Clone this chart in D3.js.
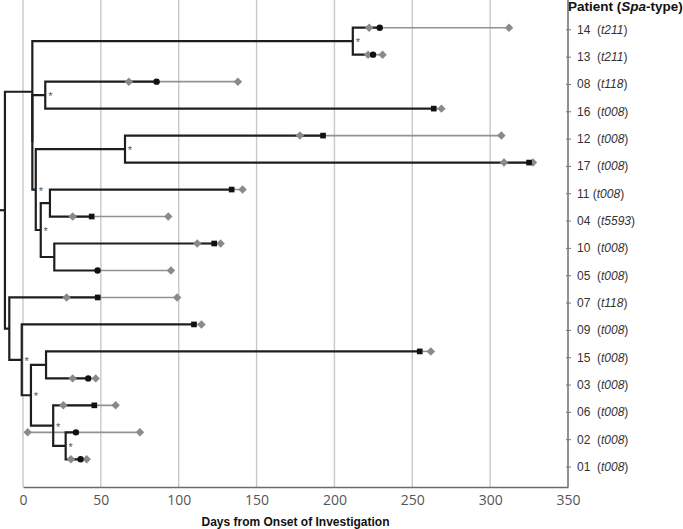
<!DOCTYPE html>
<html>
<head>
<meta charset="utf-8">
<script src="https://cdn.jsdelivr.net/npm/d3@7"></script>
<style>
  body { margin: 0; background: white; }
</style>
</head>
<body>
<svg id="chart"></svg>
<script>
// Patients, top to bottom, with spa-type
const patients = ["14", "13", "08", "16", "12", "17", "11", "04", "10", "05", "07", "09", "15", "03", "06", "02", "01"];
const spaTypes = ["t211", "t211", "t118", "t008", "t008", "t008", "t008", "t5593", "t008", "t008", "t118", "t008", "t008", "t008", "t008", "t008", "t008"];

// days: first positive (grey diamond), sequenced isolate (black marker), last positive (grey diamond)
const firstPositive = [222.3, 221.6, 68, null, 177.8, 308.9, null, 31.9, 111.9, null, 28, null, null, 31.9, 25.9, 3, 30.8];
const isolateDay = [229.1, 224.8, 85.8, 263.8, 192.7, 325, 134, 44.1, 122.8, 47.9, 48, 109.8, 254.8, 41.9, 45.8, 34, 37];
const lastPositive = [312.1, 230.9, 138, 268.7, 307.2, 327.5, 141, 93.3, 126.9, 95, 99, 114.6, 261.9, 46.7, 59.5, 75.1, 40.9];
const markerShape = ["circle", "circle", "circle", "square", "square", "square", "square", "square", "square", "circle", "square", "square", "square", "circle", "square", "circle", "circle"];

// internal nodes of the tree (day position, children, bootstrap-supported)
const nodeNames = ["n14_13", "n08_16", "n12_17", "n11_04", "n10_05", "nA", "nB", "nC2", "nC1", "nI", "nH", "nG", "nF", "nE", "nD", "root"];
const nodeDays = [211.8, 14.3, 65.5, 17.3, 20.1, 11.4, 8.2, 6.0, 6.0, 27.4, 19.4, 14.8, 5.1, -0.8, -8.8, -11.6];
const nodeChildren = [
    ["14", "13"], ["08", "16"], ["12", "17"], ["11", "04"], ["10", "05"],
    ["n11_04", "n10_05"], ["n12_17", "nA"], ["n08_16", "nB"], ["n14_13", "nC2"],
    ["02", "01"], ["06", "nI"], ["15", "03"], ["nG", "nH"], ["09", "nF"], ["07", "nE"],
    ["nC1", "nD"]
];
const nodeSupported = [true, true, true, false, false, true, true, false, false, true, true, false, true, true, false, false];
const rootStubDay = -14.8;

const xTicks = [0, 50, 100, 150, 200, 250, 300, 350];

var dimensions = {
    width: 683,
    height: 529,
    margin: { top: 0, bottom: 42, right: 115, left: 23 }
}

var svg = d3.select("#chart")
    .attr("width", dimensions.width)
    .attr("height", dimensions.height);

var plotBottom = dimensions.height - dimensions.margin.bottom; // 487
var plotRight = dimensions.width - dimensions.margin.right;    // 568

var xScale = d3.scaleLinear()
    .domain([0, 350])
    .range([dimensions.margin.left, plotRight]);

// tree rows and label rows are spaced slightly differently in the original figure
var yTree = d3.scaleLinear()
    .domain([0, patients.length - 1])
    .range([27.7, 459.3]);

var yLabel = d3.scalePoint()
    .domain(patients)
    .range([29.3, 466.5]);

// gridlines
svg.append("g")
    .selectAll("line")
    .data(xTicks.slice(0, -1))
    .enter()
    .append("line")
    .attr("x1", d => xScale(d))
    .attr("x2", d => xScale(d))
    .attr("y1", 0)
    .attr("y2", plotBottom)
    .style("stroke", "#c9c9c9")
    .style("stroke-width", 1.4);

// x axis
var xAxis = svg.append("g")
    .attr("transform", `translate(0,${plotBottom})`)
    .call(d3.axisBottom(xScale).tickValues(xTicks).tickSize(0).tickPadding(8).tickSizeOuter(0));
xAxis.select(".domain").style("stroke", "#6b6b6b").style("stroke-width", 1.5);
xAxis.selectAll("text")
    .style("font-family", "'Open Sans', sans-serif")
    .style("font-size", "14px")
    .style("fill", "#555");

svg.append("text")
    .attr("text-anchor", "middle")
    .attr("x", (dimensions.margin.left + plotRight) / 2)
    .attr("y", 526)
    .style("font-family", "'Liberation Sans', Arial, sans-serif")
    .style("font-weight", "bold")
    .style("font-size", "12px")
    .style("fill", "#111")
    .text("Days from Onset of Investigation");

// right (patient) axis
svg.append("line")
    .attr("x1", plotRight).attr("x2", plotRight)
    .attr("y1", 0).attr("y2", plotBottom)
    .style("stroke", "#6b6b6b")
    .style("stroke-width", 1.5);

var yAxis = svg.append("g")
    .attr("transform", `translate(${plotRight - 2},0)`)
    .call(d3.axisRight(yLabel).tickSizeInner(5).tickSizeOuter(0).tickPadding(6));
yAxis.select(".domain").remove();
yAxis.selectAll("line").style("stroke", "#777");
yAxis.selectAll("text")
    .style("font-family", "'Liberation Sans', Arial, sans-serif")
    .style("font-size", "12px")
    .style("fill", "#333")
    .each(function (p) {
        var t = d3.select(this).text(null);
        var i = patients.indexOf(p);
        t.append("tspan").text(p);
        // patient 11 has a narrower gap in the original labels
        t.append("tspan").attr("dx", p === "11" ? 3.3 : 6.6).text("(");
        t.append("tspan").style("font-style", "italic").text(spaTypes[i]);
        t.append("tspan").text(")");
    });

var header = svg.append("text")
    .attr("x", plotRight)
    .attr("y", 11)
    .style("font-family", "'Liberation Sans', Arial, sans-serif")
    .style("font-weight", "bold")
    .style("font-size", "13.5px")
    .style("fill", "#111");
header.append("tspan").text("Patient (");
header.append("tspan").style("font-style", "italic").text("Spa");
header.append("tspan").text("-type)");

// tree geometry
var nodeIndex = new Map(nodeNames.map((n, i) => [n, i]));

function rowY(name) {
    if (nodeIndex.has(name)) {
        var kids = nodeChildren[nodeIndex.get(name)];
        return (rowY(kids[0]) + rowY(kids[1])) / 2;
    }
    return patients.indexOf(name);
}

function endX(name) {
    if (nodeIndex.has(name)) return xScale(nodeDays[nodeIndex.get(name)]);
    return xScale(isolateDay[patients.indexOf(name)]);
}

// grey lines: first to last positive sample
svg.append("g")
    .selectAll("line")
    .data(patients)
    .enter()
    .append("line")
    .attr("x1", (d, i) => xScale(firstPositive[i] == null ? isolateDay[i] : firstPositive[i]))
    .attr("x2", (d, i) => xScale(lastPositive[i]))
    .attr("y1", (d, i) => yTree(i))
    .attr("y2", (d, i) => yTree(i))
    .style("stroke", "#929292")
    .style("stroke-width", 1.6);

// black tree branches
var treeG = svg.append("g");
treeG.selectAll("path")
    .data(nodeNames)
    .enter()
    .append("path")
    .attr("d", (n, i) => {
        var kids = nodeChildren[i];
        var nx = xScale(nodeDays[i]);
        var p = d3.path();
        p.moveTo(endX(kids[0]), yTree(rowY(kids[0])));
        p.lineTo(nx, yTree(rowY(kids[0])));
        p.lineTo(nx, yTree(rowY(kids[1])));
        p.lineTo(endX(kids[1]), yTree(rowY(kids[1])));
        return p.toString();
    })
    .style("fill", "none")
    .style("stroke", "#1e1e1e")
    .style("stroke-width", 2.2);

treeG.append("line")
    .attr("x1", xScale(rootStubDay))
    .attr("x2", xScale(nodeDays[nodeIndex.get("root")]))
    .attr("y1", yTree(rowY("root")))
    .attr("y2", yTree(rowY("root")))
    .style("stroke", "#1e1e1e")
    .style("stroke-width", 2.2);

// grey diamonds
var diamonds = [];
patients.forEach((p, i) => {
    if (firstPositive[i] != null) diamonds.push({ day: firstPositive[i], row: i });
    diamonds.push({ day: lastPositive[i], row: i });
});

svg.append("g")
    .selectAll("path")
    .data(diamonds)
    .enter()
    .append("path")
    .attr("d", d3.symbol().type(d3.symbolSquare).size(36))
    .attr("transform", d => `translate(${xScale(d.day)},${yTree(d.row)}) rotate(45)`)
    .style("fill", "#8a8a8a");

// black markers
svg.append("g")
    .selectAll("path")
    .data(patients)
    .enter()
    .append("path")
    .attr("d", (d, i) => d3.symbol().type(markerShape[i] === "circle" ? d3.symbolCircle : d3.symbolSquare).size(32)())
    .attr("transform", (d, i) => `translate(${xScale(isolateDay[i])},${yTree(i)})`)
    .style("fill", "#111");

// support stars
svg.append("g")
    .selectAll("text")
    .data(nodeNames.filter((n, i) => nodeSupported[i]))
    .enter()
    .append("text")
    .attr("x", n => xScale(nodeDays[nodeIndex.get(n)]) + 5)
    .attr("y", n => yTree(rowY(n)) + 5)
    .attr("text-anchor", "middle")
    .style("font-family", "'Liberation Sans', Arial, sans-serif")
    .style("font-size", "11px")
    .style("fill", "#555")
    .text("*");
</script>
</body>
</html>
